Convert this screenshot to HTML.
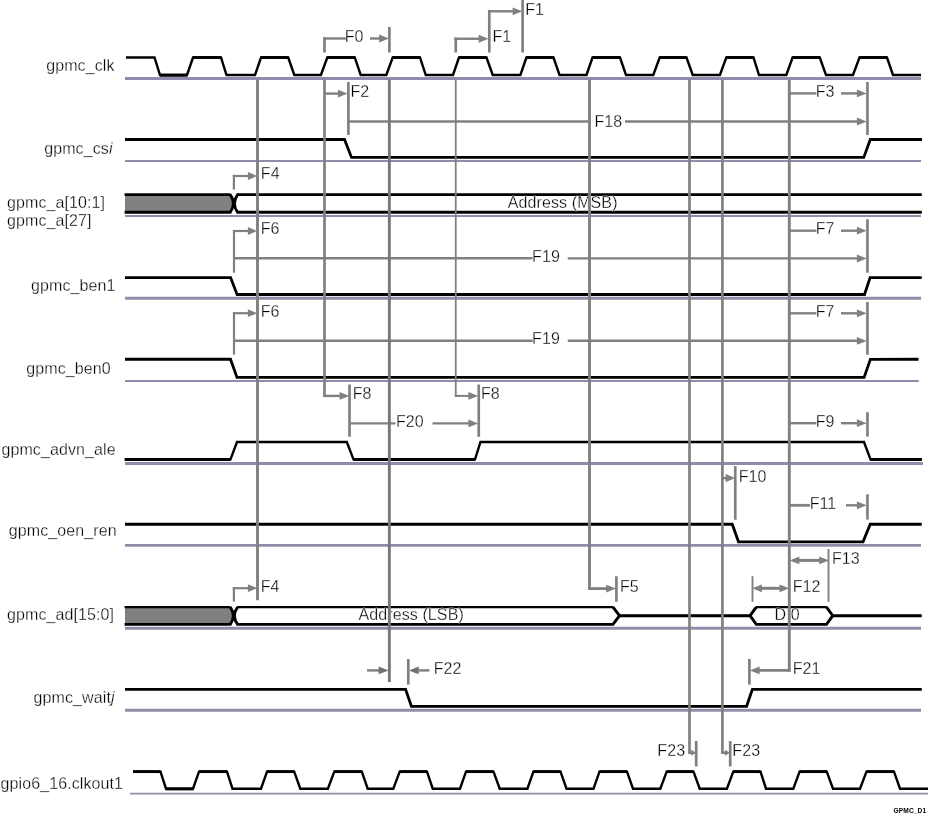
<!DOCTYPE html>
<html><head><meta charset="utf-8"><title>GPMC timing</title>
<style>
html,body{margin:0;padding:0;background:#fff;}
svg{display:block;will-change:transform}
text{font-family:"Liberation Sans",sans-serif;font-size:16px;fill:#000;stroke:#fff;stroke-width:0.3px;letter-spacing:0.1px;}
</style></head><body>
<svg width="928" height="814" viewBox="0 0 928 814">
<rect width="928" height="814" fill="#fff"/>
<line x1="125" y1="78.5" x2="921" y2="78.5" stroke="#8e8eac" stroke-width="2.8"/>
<line x1="125" y1="161" x2="921" y2="161" stroke="#8e8eac" stroke-width="2.1"/>
<line x1="125" y1="216" x2="921" y2="216" stroke="#8e8eac" stroke-width="2.1"/>
<line x1="125" y1="298.3" x2="921" y2="298.3" stroke="#8e8eac" stroke-width="2.9"/>
<line x1="125" y1="380.9" x2="918.8" y2="380.9" stroke="#8e8eac" stroke-width="2.0"/>
<line x1="125" y1="463.5" x2="923" y2="463.5" stroke="#8e8eac" stroke-width="3.2"/>
<line x1="125" y1="545.4" x2="921" y2="545.4" stroke="#8e8eac" stroke-width="2.9"/>
<line x1="125" y1="628.2" x2="921" y2="628.2" stroke="#8e8eac" stroke-width="2.9"/>
<line x1="125" y1="710.3" x2="921" y2="710.3" stroke="#8e8eac" stroke-width="3.0"/>
<line x1="130" y1="793.7" x2="928" y2="793.7" stroke="#8e8eac" stroke-width="1.8"/>
<text x="46.2" y="71" >gpmc_clk</text>
<text x="44.2" y="153.7" >gpmc_cs<tspan font-style="italic">i</tspan></text>
<text x="7" y="208" >gpmc_a[10:1]</text>
<text x="7" y="226" >gpmc_a[27]</text>
<text x="31.1" y="290.5" >gpmc_ben1</text>
<text x="26.3" y="373.75" >gpmc_ben0</text>
<text x="1.4" y="455" >gpmc_advn_ale</text>
<text x="8.8" y="535.5" >gpmc_oen_ren</text>
<text x="7" y="620" >gpmc_ad[15:0]</text>
<text x="33.6" y="703.4" >gpmc_wait<tspan font-style="italic">j</tspan></text>
<text x="0.5" y="788.75" >gpio6_16.clkout1</text>
<polyline points="126,57.5 154.5,57.5 160,75 187,75 193,57.5 221,57.5 226.5,75 255,75 261,57.5 288.2,57.5 294.3,75 320.9,75 327.3,57.5 354.8,57.5 360.7,75 386.3,75 392.7,57.5 420,57.5 425.75,75 453,75 459,57.5 486.5,57.5 492.75,75 520.4,75 526.4,57.5 553.5,57.5 559.5,75 586.5,75 592.5,57.5 620,57.5 626,75 653.3,75 659.7,57.5 686.5,57.5 692.75,75 719.9,75 726.3,57.5 753.5,57.5 759,75 786.3,75 792.6,57.5 819.75,57.5 826,75 853,75 859.5,57.5 887,57.5 893,75 921,75" fill="none" stroke="#000000" stroke-width="2.4" stroke-linejoin="miter"/>
<line x1="159.8" y1="75.2" x2="187.2" y2="75.2" stroke="#000000" stroke-width="3.0"/>
<line x1="192.8" y1="57.5" x2="221.2" y2="57.5" stroke="#000000" stroke-width="2.9"/>
<line x1="260.8" y1="57.5" x2="288.4" y2="57.5" stroke="#000000" stroke-width="2.9"/>
<line x1="327.1" y1="57.5" x2="355.0" y2="57.5" stroke="#000000" stroke-width="2.9"/>
<line x1="392.5" y1="57.5" x2="420.2" y2="57.5" stroke="#000000" stroke-width="2.9"/>
<line x1="458.8" y1="57.5" x2="486.7" y2="57.5" stroke="#000000" stroke-width="2.9"/>
<line x1="526.1999999999999" y1="57.5" x2="553.7" y2="57.5" stroke="#000000" stroke-width="2.9"/>
<line x1="592.3" y1="57.5" x2="620.2" y2="57.5" stroke="#000000" stroke-width="2.9"/>
<line x1="659.5" y1="57.5" x2="686.7" y2="57.5" stroke="#000000" stroke-width="2.9"/>
<line x1="726.0999999999999" y1="57.5" x2="753.7" y2="57.5" stroke="#000000" stroke-width="2.9"/>
<line x1="792.4" y1="57.5" x2="819.95" y2="57.5" stroke="#000000" stroke-width="2.9"/>
<line x1="859.3" y1="57.5" x2="887.2" y2="57.5" stroke="#000000" stroke-width="2.9"/>
<polyline points="133.2,771.6 160.5,771.6 166,788.7 193,788.7 199,771.6 227,771.6 232.5,788.7 261,788.7 267,771.6 294.2,771.6 300.3,788.7 327.9,788.7 334.3,771.6 361.8,771.6 367.7,788.7 393.3,788.7 399.7,771.6 427,771.6 432.75,788.7 460,788.7 466,771.6 493.5,771.6 499.75,788.7 527.4,788.7 533.4,771.6 560.5,771.6 566.5,788.7 593.5,788.7 599.5,771.6 627,771.6 633,788.7 660.3,788.7 666.7,771.6 693.5,771.6 699.75,788.7 726.9,788.7 733.3,771.6 760.5,771.6 766,788.7 793.3,788.7 799.6,771.6 826.75,771.6 833,788.7 860,788.7 866.5,771.6 894,771.6 900,788.7 928,788.7" fill="none" stroke="#000000" stroke-width="2.4" stroke-linejoin="miter"/>
<line x1="133.0" y1="771.6" x2="160.7" y2="771.6" stroke="#000000" stroke-width="2.9"/>
<line x1="165.8" y1="788.9000000000001" x2="193.2" y2="788.9000000000001" stroke="#000000" stroke-width="3.0"/>
<line x1="198.8" y1="771.6" x2="227.2" y2="771.6" stroke="#000000" stroke-width="2.9"/>
<line x1="266.8" y1="771.6" x2="294.4" y2="771.6" stroke="#000000" stroke-width="2.9"/>
<line x1="334.1" y1="771.6" x2="362.0" y2="771.6" stroke="#000000" stroke-width="2.9"/>
<line x1="399.5" y1="771.6" x2="427.2" y2="771.6" stroke="#000000" stroke-width="2.9"/>
<line x1="465.8" y1="771.6" x2="493.7" y2="771.6" stroke="#000000" stroke-width="2.9"/>
<line x1="533.1999999999999" y1="771.6" x2="560.7" y2="771.6" stroke="#000000" stroke-width="2.9"/>
<line x1="599.3" y1="771.6" x2="627.2" y2="771.6" stroke="#000000" stroke-width="2.9"/>
<line x1="666.5" y1="771.6" x2="693.7" y2="771.6" stroke="#000000" stroke-width="2.9"/>
<line x1="733.0999999999999" y1="771.6" x2="760.7" y2="771.6" stroke="#000000" stroke-width="2.9"/>
<line x1="799.4" y1="771.6" x2="826.95" y2="771.6" stroke="#000000" stroke-width="2.9"/>
<line x1="866.3" y1="771.6" x2="894.2" y2="771.6" stroke="#000000" stroke-width="2.9"/>
<polyline points="125,139.5 344.5,139.5 351.5,157.4 863.8,157.4 870.3,139.5 922,139.5" fill="none" stroke="#000000" stroke-width="2.8" stroke-linejoin="miter"/>
<polyline points="125,277.6 230.6,277.6 237.1,294.5 864.5,294.5 870.1,277.6 921.75,277.6" fill="none" stroke="#000000" stroke-width="2.8" stroke-linejoin="miter"/>
<polyline points="125,359.25 230.5,359.25 237,377.4 864.1,377.4 870.4,359.3 918.5,359.25" fill="none" stroke="#000000" stroke-width="2.8" stroke-linejoin="miter"/>
<polyline points="125,459.3 230.5,459.3 237,442 346.8,442 353.5,459.4 475,459.4 480.5,442 864,442 870.5,459.4 921.8,459.4" fill="none" stroke="#000000" stroke-width="2.4" stroke-linejoin="miter"/>
<line x1="124.6" y1="459.4" x2="230.7" y2="459.4" stroke="#000000" stroke-width="3.0"/>
<line x1="353.3" y1="459.4" x2="475.2" y2="459.4" stroke="#000000" stroke-width="3.0"/>
<line x1="870.3" y1="459.4" x2="921.8" y2="459.4" stroke="#000000" stroke-width="3.0"/>
<polyline points="125,524.25 732.25,524.25 738.5,541.8 863,541.8 870.25,524.25 921.75,524.25" fill="none" stroke="#000000" stroke-width="2.8" stroke-linejoin="miter"/>
<polyline points="125,689.3 405.6,689.3 411.4,706.3 746.6,706.3 752.4,689.3 921.75,689.3" fill="none" stroke="#000000" stroke-width="2.8" stroke-linejoin="miter"/>
<path d="M125,194.6 L230.3,194.6 Q236.3,203.45 230.3,212.3 L125,212.3 Z" fill="#808080" stroke="none"/>
<path d="M230.3,194.6 Q236.3,203.45 230.3,212.3 L124.6,212.3" fill="none" stroke="#000" stroke-width="2.9"/>
<path d="M124.6,194.6 L230.6,194.6" fill="none" stroke="#000" stroke-width="2.9"/>
<path d="M921.75,194.6 L237.6,194.6 Q231.2,203.4 237.6,212.3 L921.75,212.3" fill="none" stroke="#000" stroke-width="2.9"/>
<path d="M125,607.1 L230.3,607.1 Q236.3,615.75 230.3,624.4 L125,624.4 Z" fill="#808080" stroke="none"/>
<path d="M230.3,607.1 Q236.3,615.75 230.3,624.4 L124.6,624.4" fill="none" stroke="#000" stroke-width="2.9"/>
<path d="M124.6,607.1 L230.6,607.1" fill="none" stroke="#000" stroke-width="2.4"/>
<path d="M237.6,607.1 Q231.2,615.7 237.6,624.4 L613,624.4 L619.5,615.7 L613,607.1" fill="none" stroke="#000" stroke-width="2.9"/>
<path d="M237.2,607.1 L613.4,607.1 M756,607.1 L826.8,607.1" fill="none" stroke="#000" stroke-width="2.4"/>
<path d="M619.5,615.7 L750,615.7 L756.25,607.1 M826.5,607.1 L832.75,615.7 L826.5,624.4 L756.25,624.4 L750,615.7 M832.75,615.7 L921.75,615.7" fill="none" stroke="#000" stroke-width="2.9"/>
<text x="507.8" y="208.4" >Address (MSB)</text>
<text x="358.5" y="620" >Address (LSB)</text>
<text x="774.5" y="620.3" >D 0</text>
<line x1="324.5" y1="37.2" x2="324.5" y2="52.5" stroke="#808080" stroke-width="2.7"/>
<line x1="323.2" y1="38.5" x2="346" y2="38.5" stroke="#808080" stroke-width="2.4"/>
<text x="344.7" y="41.9" >F0</text>
<line x1="370" y1="38.5" x2="380" y2="38.5" stroke="#808080" stroke-width="2.4"/>
<polygon points="388.9,38.5 379.09999999999997,34.6 379.09999999999997,42.4" fill="#808080"/>
<line x1="389.4" y1="27" x2="389.4" y2="52.5" stroke="#808080" stroke-width="2.7"/>
<line x1="455.75" y1="37.5" x2="455.75" y2="52.5" stroke="#808080" stroke-width="2.7"/>
<line x1="454.45" y1="38.75" x2="480" y2="38.75" stroke="#808080" stroke-width="2.4"/>
<polygon points="488.45,38.75 478.65,34.85 478.65,42.65" fill="#808080"/>
<line x1="489.3" y1="9.9" x2="489.3" y2="52.5" stroke="#808080" stroke-width="2.7"/>
<text x="492.4" y="41.9" >F1</text>
<line x1="489.3" y1="11.3" x2="513" y2="11.3" stroke="#808080" stroke-width="2.4"/>
<polygon points="522.4,11.3 512.6,7.4 512.6,15.200000000000001" fill="#808080"/>
<line x1="522.6" y1="0" x2="522.6" y2="52.5" stroke="#808080" stroke-width="2.7"/>
<text x="525.2" y="14.5" >F1</text>
<line x1="324.5" y1="93.6" x2="339" y2="93.6" stroke="#808080" stroke-width="2.4"/>
<polygon points="347.7,93.6 337.9,89.69999999999999 337.9,97.5" fill="#808080"/>
<line x1="348.4" y1="82" x2="348.4" y2="135" stroke="#808080" stroke-width="2.7"/>
<text x="350.5" y="96.9" >F2</text>
<line x1="348.4" y1="121.5" x2="589.5" y2="121.5" stroke="#808080" stroke-width="2.5"/>
<text x="594.4" y="126.7" >F18</text>
<line x1="625" y1="121.5" x2="858" y2="121.5" stroke="#808080" stroke-width="2.5"/>
<polygon points="866.7,121.5 856.9000000000001,117.6 856.9000000000001,125.4" fill="#808080"/>
<line x1="789.25" y1="93.4" x2="816.4" y2="93.4" stroke="#808080" stroke-width="2.4"/>
<text x="815.7" y="96.9" >F3</text>
<line x1="841" y1="93.4" x2="858" y2="93.4" stroke="#808080" stroke-width="2.4"/>
<polygon points="866.7,93.4 856.9000000000001,89.5 856.9000000000001,97.30000000000001" fill="#808080"/>
<line x1="867.45" y1="82" x2="867.45" y2="135" stroke="#808080" stroke-width="2.7"/>
<line x1="233.9" y1="174.9" x2="233.9" y2="189.6" stroke="#808080" stroke-width="2.2"/>
<line x1="232.8" y1="176" x2="249" y2="176" stroke="#808080" stroke-width="2.2"/>
<polygon points="257.2,176 247.89999999999998,172.1 247.89999999999998,179.9" fill="#808080"/>
<text x="260.8" y="178.9" >F4</text>
<line x1="234" y1="229.9" x2="234" y2="272.7" stroke="#808080" stroke-width="2.2"/>
<line x1="232.9" y1="231" x2="249" y2="231" stroke="#808080" stroke-width="2.2"/>
<polygon points="257.2,231 247.89999999999998,227.1 247.89999999999998,234.9" fill="#808080"/>
<text x="260.7" y="234.1" >F6</text>
<line x1="233" y1="258.3" x2="532.6" y2="258.3" stroke="#808080" stroke-width="2.4"/>
<text x="532.1" y="261.6" >F19</text>
<line x1="567.75" y1="258.4" x2="858" y2="258.4" stroke="#808080" stroke-width="2.4"/>
<polygon points="866.7,258.5 856.9000000000001,254.6 856.9000000000001,262.4" fill="#808080"/>
<line x1="789.25" y1="230.7" x2="816.4" y2="230.7" stroke="#808080" stroke-width="2.4"/>
<text x="815.7" y="234.0" >F7</text>
<line x1="841" y1="230.7" x2="858" y2="230.7" stroke="#808080" stroke-width="2.4"/>
<polygon points="866.7,230.7 856.9000000000001,226.79999999999998 856.9000000000001,234.6" fill="#808080"/>
<line x1="867.45" y1="219.25" x2="867.45" y2="272.7" stroke="#808080" stroke-width="2.7"/>
<line x1="234" y1="311.9" x2="234" y2="354.6" stroke="#808080" stroke-width="2.2"/>
<line x1="232.9" y1="313.2" x2="249" y2="313.2" stroke="#808080" stroke-width="2.2"/>
<polygon points="257.2,313.2 247.89999999999998,309.3 247.89999999999998,317.09999999999997" fill="#808080"/>
<text x="260.7" y="316.5" >F6</text>
<line x1="233" y1="340.7" x2="532.6" y2="340.7" stroke="#808080" stroke-width="2.4"/>
<text x="532.1" y="343.7" >F19</text>
<line x1="567.75" y1="340.8" x2="858" y2="340.8" stroke="#808080" stroke-width="2.4"/>
<polygon points="866.7,340.9 856.9000000000001,337.0 856.9000000000001,344.79999999999995" fill="#808080"/>
<line x1="789.25" y1="313.3" x2="816.4" y2="313.3" stroke="#808080" stroke-width="2.4"/>
<text x="815.7" y="316.6" >F7</text>
<line x1="841" y1="313.3" x2="858" y2="313.3" stroke="#808080" stroke-width="2.4"/>
<polygon points="866.7,313.3 856.9000000000001,309.40000000000003 856.9000000000001,317.2" fill="#808080"/>
<line x1="867.45" y1="302" x2="867.45" y2="354.7" stroke="#808080" stroke-width="2.7"/>
<line x1="323.2" y1="395.9" x2="341" y2="395.9" stroke="#808080" stroke-width="2.4"/>
<polygon points="349.45,395.9 339.65,392.0 339.65,399.79999999999995" fill="#808080"/>
<line x1="349.5" y1="384.5" x2="349.5" y2="436.8" stroke="#808080" stroke-width="2.7"/>
<text x="352.7" y="398.9" >F8</text>
<line x1="349.5" y1="423.4" x2="395.5" y2="423.4" stroke="#808080" stroke-width="2.4"/>
<text x="395.95" y="426.9" >F20</text>
<line x1="432.5" y1="423.4" x2="470" y2="423.4" stroke="#808080" stroke-width="2.4"/>
<polygon points="478.2,423.4 468.4,419.5 468.4,427.29999999999995" fill="#808080"/>
<line x1="454.85" y1="395.9" x2="470" y2="395.9" stroke="#808080" stroke-width="2.0"/>
<polygon points="478.2,395.9 468.4,392.0 468.4,399.79999999999995" fill="#808080"/>
<line x1="478.75" y1="384.5" x2="478.75" y2="436.8" stroke="#808080" stroke-width="2.7"/>
<text x="480.95" y="398.9" >F8</text>
<line x1="789.25" y1="423.2" x2="816.4" y2="423.2" stroke="#808080" stroke-width="2.4"/>
<text x="815.7" y="426.9" >F9</text>
<line x1="841" y1="423.2" x2="858" y2="423.2" stroke="#808080" stroke-width="2.4"/>
<polygon points="866.7,423.2 856.9000000000001,419.3 856.9000000000001,427.09999999999997" fill="#808080"/>
<line x1="867.45" y1="412.2" x2="867.45" y2="436.6" stroke="#808080" stroke-width="2.7"/>
<line x1="722.25" y1="478.1" x2="727" y2="478.1" stroke="#808080" stroke-width="2.4"/>
<polygon points="735.1,478.1 725.6,474.0 725.6,482.20000000000005" fill="#808080"/>
<line x1="735.25" y1="466.1" x2="735.25" y2="519.8" stroke="#808080" stroke-width="2.7"/>
<text x="738.7" y="482.4" >F10</text>
<line x1="789.25" y1="505.3" x2="810" y2="505.3" stroke="#808080" stroke-width="2.8"/>
<text x="809.7" y="508.7" >F11</text>
<line x1="846" y1="505.3" x2="858" y2="505.3" stroke="#808080" stroke-width="2.4"/>
<polygon points="866.7,505.3 856.9000000000001,501.40000000000003 856.9000000000001,509.2" fill="#808080"/>
<line x1="867.45" y1="494.25" x2="867.45" y2="519.6" stroke="#808080" stroke-width="2.7"/>
<line x1="795" y1="560.4" x2="822" y2="560.4" stroke="#808080" stroke-width="3.0"/>
<polygon points="789.6,560.4 799.4,556.5 799.4,564.3" fill="#808080"/>
<polygon points="829.0,560.4 819.2,556.5 819.2,564.3" fill="#808080"/>
<line x1="828.5" y1="549" x2="828.5" y2="601.8" stroke="#808080" stroke-width="1.9"/>
<text x="831.95" y="564" >F13</text>
<line x1="752.5" y1="576.2" x2="752.5" y2="601.8" stroke="#808080" stroke-width="1.9"/>
<line x1="760" y1="588.3" x2="783" y2="588.3" stroke="#808080" stroke-width="3.0"/>
<polygon points="752.1,588.3 761.9,584.4 761.9,592.1999999999999" fill="#808080"/>
<polygon points="789.3,588.3 779.5,584.4 779.5,592.1999999999999" fill="#808080"/>
<text x="792.7" y="591.9" >F12</text>
<line x1="588.1" y1="588.6" x2="607" y2="588.6" stroke="#808080" stroke-width="2.8"/>
<polygon points="616.0,588.6 606.2,584.7 606.2,592.5" fill="#808080"/>
<line x1="616.4" y1="576.25" x2="616.4" y2="601.8" stroke="#808080" stroke-width="2.7"/>
<text x="620.0" y="591.9" >F5</text>
<line x1="233.9" y1="587" x2="233.9" y2="601.6" stroke="#808080" stroke-width="2.2"/>
<line x1="232.8" y1="588.2" x2="249" y2="588.2" stroke="#808080" stroke-width="2.2"/>
<polygon points="257.2,588.2 247.89999999999998,584.3000000000001 247.89999999999998,592.1" fill="#808080"/>
<text x="260.7" y="591.9" >F4</text>
<line x1="367" y1="670.4" x2="380" y2="670.4" stroke="#808080" stroke-width="2.4"/>
<polygon points="388.5,670.4 378.7,666.5 378.7,674.3" fill="#707074"/>
<line x1="408.3" y1="659" x2="408.3" y2="684.6" stroke="#808080" stroke-width="2.7"/>
<polygon points="408.9,670.4 418.7,666.5 418.7,674.3" fill="#707074"/>
<line x1="417" y1="670.4" x2="429.5" y2="670.4" stroke="#808080" stroke-width="2.4"/>
<text x="433.7" y="674.3" >F22</text>
<line x1="758" y1="670.4" x2="790.6" y2="670.4" stroke="#808080" stroke-width="2.8"/>
<polygon points="749.8,670.4 759.5999999999999,666.5 759.5999999999999,674.3" fill="#808080"/>
<line x1="749.4" y1="659" x2="749.4" y2="684.6" stroke="#808080" stroke-width="2.7"/>
<text x="792.7" y="674.3" >F21</text>
<text x="657.3" y="756" >F23</text>
<line x1="688.3" y1="752.75" x2="692" y2="752.75" stroke="#808080" stroke-width="2.4"/>
<polygon points="696.2,752.75 691.2,749.75 691.2,755.75" fill="#808080"/>
<line x1="696.2" y1="741" x2="696.2" y2="766.5" stroke="#808080" stroke-width="2.7"/>
<line x1="721.2" y1="752.75" x2="725" y2="752.75" stroke="#808080" stroke-width="2.4"/>
<polygon points="730.0,752.75 725.0,749.75 725.0,755.75" fill="#808080"/>
<line x1="730.2" y1="741" x2="730.2" y2="766.5" stroke="#808080" stroke-width="2.7"/>
<text x="732.3" y="756" >F23</text>
<line x1="257.5" y1="79.5" x2="257.5" y2="600.2" stroke="#808080" stroke-width="2.9"/>
<line x1="324.5" y1="79.5" x2="324.5" y2="397.1" stroke="#808080" stroke-width="2.7"/>
<line x1="389.35" y1="79.5" x2="389.35" y2="682" stroke="#76767e" stroke-width="2.9"/>
<line x1="455.75" y1="79.5" x2="455.75" y2="396.9" stroke="#808080" stroke-width="1.8"/>
<line x1="589.5" y1="79.5" x2="589.5" y2="590" stroke="#808080" stroke-width="2.9"/>
<line x1="689.5" y1="79.5" x2="689.5" y2="753.9" stroke="#808080" stroke-width="2.7"/>
<line x1="722.4" y1="79.5" x2="722.4" y2="753.9" stroke="#808080" stroke-width="2.7"/>
<line x1="789.3" y1="79.5" x2="789.3" y2="671.8" stroke="#808080" stroke-width="2.9"/>
<text x="893.6" y="813" style="font-size:6.9px;font-weight:bold;stroke:none" fill="#000" textLength="32.6" lengthAdjust="spacingAndGlyphs">GPMC_D1</text>
</svg>
</body></html>
